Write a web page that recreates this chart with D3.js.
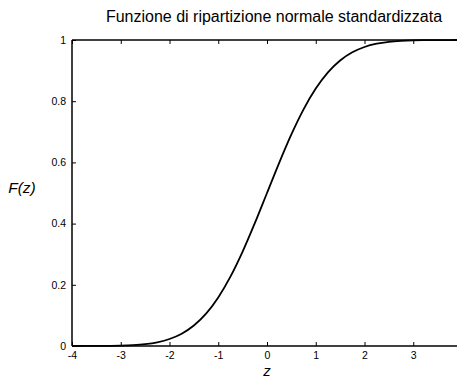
<!DOCTYPE html>
<html>
<head>
<meta charset="utf-8">
<script src="https://cdn.jsdelivr.net/npm/d3@7/dist/d3.min.js"></script>
<style>
  html, body { margin: 0; padding: 0; background: #fff; overflow: hidden; }
  svg { display: block; font-family: "Liberation Sans", Arial, sans-serif; }
</style>
</head>
<body>
<svg id="chart" width="457" height="378"></svg>
<script>
// Standard normal cumulative distribution, sampled along z
const zValues = [-4, -3.75, -3.5, -3.25, -3, -2.75, -2.5, -2.25, -2, -1.75, -1.5, -1.25, -1,
  -0.75, -0.5, -0.25, 0, 0.25, 0.5, 0.75, 1, 1.25, 1.5, 1.75, 2, 2.25, 2.5, 2.75, 3,
  3.25, 3.5, 3.75, 4];
const fValues = [0.00003, 0.0001, 0.0002, 0.0006, 0.0013, 0.003, 0.0062, 0.0122, 0.0228,
  0.0401, 0.0668, 0.1056, 0.1587, 0.2266, 0.3085, 0.4013, 0.5, 0.5987, 0.6915, 0.7734,
  0.8413, 0.8944, 0.9332, 0.9599, 0.9772, 0.9878, 0.9938, 0.997, 0.9987, 0.9994, 0.9998,
  0.9999, 1];
const xTicks = [-4, -3, -2, -1, 0, 1, 2, 3];
const yTicks = [0, 0.2, 0.4, 0.6, 0.8, 1];

const titleText = "Funzione di ripartizione normale standardizzata";
const xLabel = "z";
const yLabel = "F(z)";

const svg = d3.select("#chart");
const mLeft = 72, mRight = 462, mTop = 40, mBottom = 346;

const x = d3.scaleLinear().domain([-4, 4]).range([mLeft, mRight]);
const y = d3.scaleLinear().domain([0, 1]).range([mBottom, mTop]);

const data = zValues.map((z, i) => ({ z, f: fValues[i] }));

// Curve
svg.append("path")
  .datum(data)
  .attr("fill", "none")
  .attr("stroke", "#000")
  .attr("stroke-width", 1.8)
  .attr("d", d3.line().x(d => x(d.z)).y(d => y(d.f)).curve(d3.curveMonotoneX));

const tickLen = 4;
// Plain hyphen for negative numbers
const fmt = d => String(+d.toFixed(2));

// Bottom axis (ticks pointing inward)
const xAxisB = svg.append("g").attr("transform", `translate(0,${mBottom})`)
  .call(d3.axisBottom(x).tickValues(xTicks).tickSize(-tickLen).tickPadding(6).tickFormat(fmt));
// Top axis, ticks only
const xAxisT = svg.append("g").attr("transform", `translate(0,${mTop})`)
  .call(d3.axisTop(x).tickValues(xTicks).tickSize(-tickLen).tickFormat(""));
// Left axis
const yAxisL = svg.append("g").attr("transform", `translate(${mLeft},0)`)
  .call(d3.axisLeft(y).tickValues(yTicks).tickSize(-tickLen).tickPadding(6).tickFormat(fmt));
// Right axis, ticks only
const yAxisR = svg.append("g").attr("transform", `translate(${mRight},0)`)
  .call(d3.axisRight(y).tickValues(yTicks).tickSize(-tickLen).tickFormat(""));

[xAxisB, xAxisT, yAxisL, yAxisR].forEach(g => {
  g.select(".domain").attr("stroke", "#000").attr("stroke-width", 1.5);
  g.selectAll(".tick line").attr("stroke", "#000").attr("stroke-width", 1);
  g.selectAll(".tick text").attr("fill", "#000").attr("font-size", 10.5)
    .attr("font-family", "'Liberation Sans', Arial, sans-serif");
});
// Straight spines without end caps
xAxisB.select(".domain").attr("d", `M${mLeft},0H${mRight}`);
xAxisT.select(".domain").attr("d", `M${mLeft},0H${mRight}`);
yAxisL.select(".domain").attr("d", `M0,${mBottom}V${mTop}`);
yAxisR.select(".domain").attr("d", `M0,${mBottom}V${mTop}`);

// Title
svg.append("text")
  .attr("x", 274).attr("y", 22)
  .attr("text-anchor", "middle").attr("font-size", 16).attr("fill", "#000")
  .text(titleText);

// Axis labels
svg.append("text")
  .attr("x", x(0)).attr("y", 376)
  .attr("text-anchor", "middle").attr("font-size", 15).attr("font-style", "italic")
  .text(xLabel);
svg.append("text")
  .attr("x", 22).attr("y", 193)
  .attr("text-anchor", "middle").attr("font-size", 15.5).attr("font-style", "italic")
  .text(yLabel);
</script>
</body>
</html>
